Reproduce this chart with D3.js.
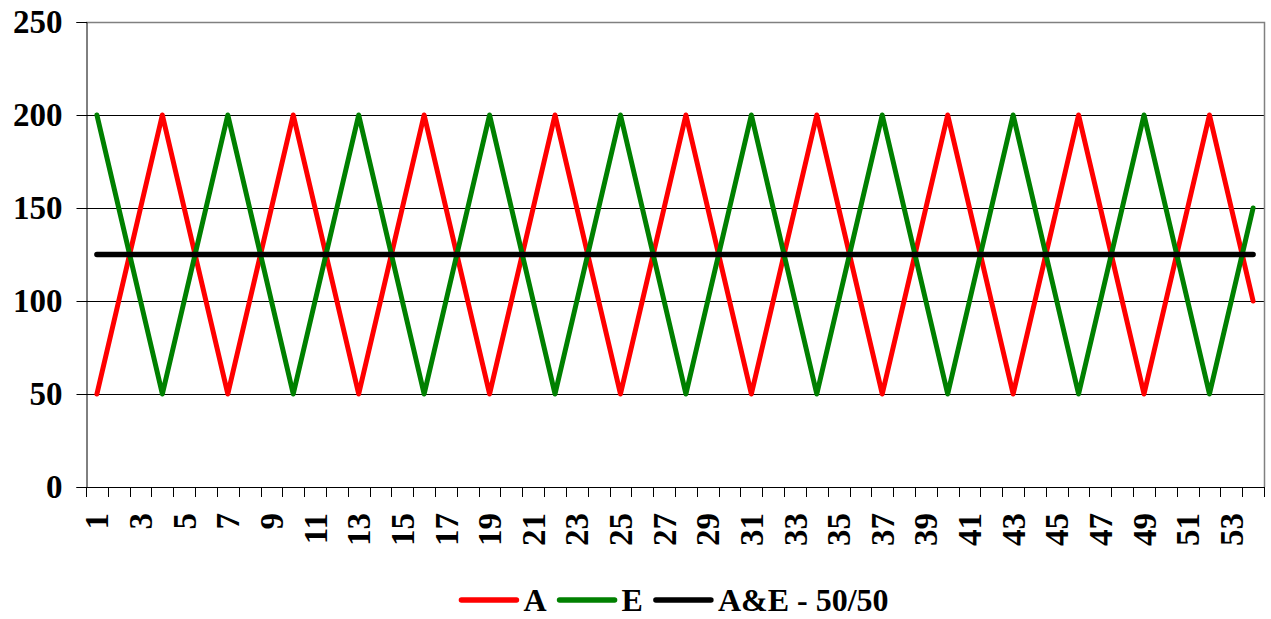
<!DOCTYPE html>
<html>
<head>
<meta charset="utf-8">
<script src="https://cdn.jsdelivr.net/npm/d3@7.9.0/dist/d3.min.js"></script>
<style>
  html, body { margin: 0; padding: 0; background: #fff; }
  svg { display: block; font-family: "Liberation Serif", "Times New Roman", serif; font-weight: bold; }
</style>
</head>
<body>
<svg id="chart" width="1271" height="619"></svg>
<script>
const categories = d3.range(1, 55).map(String);

const seriesA = [
  50, 100, 150, 200, 150, 100, 50, 100, 150, 200, 150, 100,
  50, 100, 150, 200, 150, 100, 50, 100, 150, 200, 150, 100,
  50, 100, 150, 200, 150, 100, 50, 100, 150, 200, 150, 100,
  50, 100, 150, 200, 150, 100, 50, 100, 150, 200, 150, 100,
  50, 100, 150, 200, 150, 100
];
const seriesE = [
  200, 150, 100, 50, 100, 150, 200, 150, 100, 50, 100, 150,
  200, 150, 100, 50, 100, 150, 200, 150, 100, 50, 100, 150,
  200, 150, 100, 50, 100, 150, 200, 150, 100, 50, 100, 150,
  200, 150, 100, 50, 100, 150, 200, 150, 100, 50, 100, 150,
  200, 150, 100, 50, 100, 150
];
const seriesAE = [
  125, 125, 125, 125, 125, 125, 125, 125, 125, 125, 125, 125,
  125, 125, 125, 125, 125, 125, 125, 125, 125, 125, 125, 125,
  125, 125, 125, 125, 125, 125, 125, 125, 125, 125, 125, 125,
  125, 125, 125, 125, 125, 125, 125, 125, 125, 125, 125, 125,
  125, 125, 125, 125, 125, 125
];
const yTicks = [0, 50, 100, 150, 200, 250];
const xTickLabels = categories.filter((d, i) => i % 2 === 0);

const series = [
  { name: 'A', values: seriesA, color: '#ff0000', width: 5 },
  { name: 'E', values: seriesE, color: '#008000', width: 5 },
  { name: 'A&E - 50/50', values: seriesAE, color: '#000000', width: 5.5 },
];

const plot = { left: 86, right: 1264, top: 22, bottom: 487 };

const svg = d3.select('#chart');

const xBand = d3.scaleBand().domain(categories).range([plot.left, plot.right]);
const x = (c) => xBand(c) + xBand.bandwidth() / 2;
const y = d3.scaleLinear().domain([0, 250]).range([plot.bottom, plot.top]);

// gridlines
svg.append('g')
  .selectAll('line')
  .data(yTicks.filter((d) => d > 0 && d < 250))
  .join('line')
  .attr('x1', plot.left)
  .attr('x2', plot.right)
  .attr('y1', (d) => Math.round(y(d)) + 0.5)
  .attr('y2', (d) => Math.round(y(d)) + 0.5)
  .attr('stroke', '#000')
  .attr('stroke-width', 1);

// plot area border (top + right)
svg.append('path')
  .attr('d', `M${plot.left},${Math.round(y(250)) + 0.5}H${plot.right + 0.5}V${plot.bottom}`)
  .attr('fill', 'none')
  .attr('stroke', '#808080')
  .attr('stroke-width', 1.5);

// y axis
const yAxis = svg.append('g')
  .attr('transform', `translate(${plot.left + 0.5},0)`)
  .call(d3.axisLeft(y).tickValues(yTicks).tickSize(10).tickPadding(14));
yAxis.select('.domain').attr('stroke', '#000');
yAxis.selectAll('.tick line').attr('stroke', '#000');
yAxis.selectAll('.tick text')
  .attr('font-size', 33)
  .attr('font-family', '"Liberation Serif", "Times New Roman", serif')
  .attr('font-weight', 'bold')
  .attr('fill', '#000');

// x axis line + ticks at category boundaries
svg.append('line')
  .attr('x1', plot.left)
  .attr('x2', plot.right)
  .attr('y1', plot.bottom + 0.5)
  .attr('y2', plot.bottom + 0.5)
  .attr('stroke', '#000');

const boundaries = categories.map((c) => xBand(c)).concat([xBand.range()[1]]);
svg.append('g')
  .selectAll('line')
  .data(boundaries)
  .join('line')
  .attr('x1', (d) => Math.round(d) + 0.5)
  .attr('x2', (d) => Math.round(d) + 0.5)
  .attr('y1', plot.bottom)
  .attr('y2', plot.bottom + 10)
  .attr('stroke', '#000');

svg.append('g')
  .selectAll('text')
  .data(xTickLabels)
  .join('text')
  .attr('transform', (d) => `translate(${x(d)},${plot.bottom + 26}) rotate(-90)`)
  .attr('text-anchor', 'end')
  .attr('dy', '0.35em')
  .attr('font-size', 33)
  .text((d) => d);

// series lines
const line = d3.line()
  .x((d, i) => x(categories[i]))
  .y((d) => y(d));

svg.append('g')
  .selectAll('path')
  .data(series)
  .join('path')
  .attr('d', (s) => line(s.values))
  .attr('fill', 'none')
  .attr('stroke', (s) => s.color)
  .attr('stroke-width', (s) => s.width)
  .attr('stroke-linecap', 'round')
  .attr('stroke-linejoin', 'round');

// legend
const legend = svg.append('g');
const legendY = 600;
let cursor = 0;
series.forEach((s) => {
  const item = legend.append('g').attr('transform', `translate(${cursor},0)`);
  item.append('line')
    .attr('x1', 0).attr('x2', 55)
    .attr('y1', legendY).attr('y2', legendY)
    .attr('stroke', s.color)
    .attr('stroke-width', 5.5)
    .attr('stroke-linecap', 'round');
  const t = item.append('text')
    .attr('x', 62)
    .attr('y', legendY)
    .attr('dy', '0.35em')
    .attr('font-size', 32)
    .text(s.name);
  cursor += 62 + t.node().getComputedTextLength() + 13;
});
const legendWidth = cursor - 13;
legend.attr('transform', `translate(${(plot.left + plot.right) / 2 - legendWidth / 2},0)`);
</script>
</body>
</html>
